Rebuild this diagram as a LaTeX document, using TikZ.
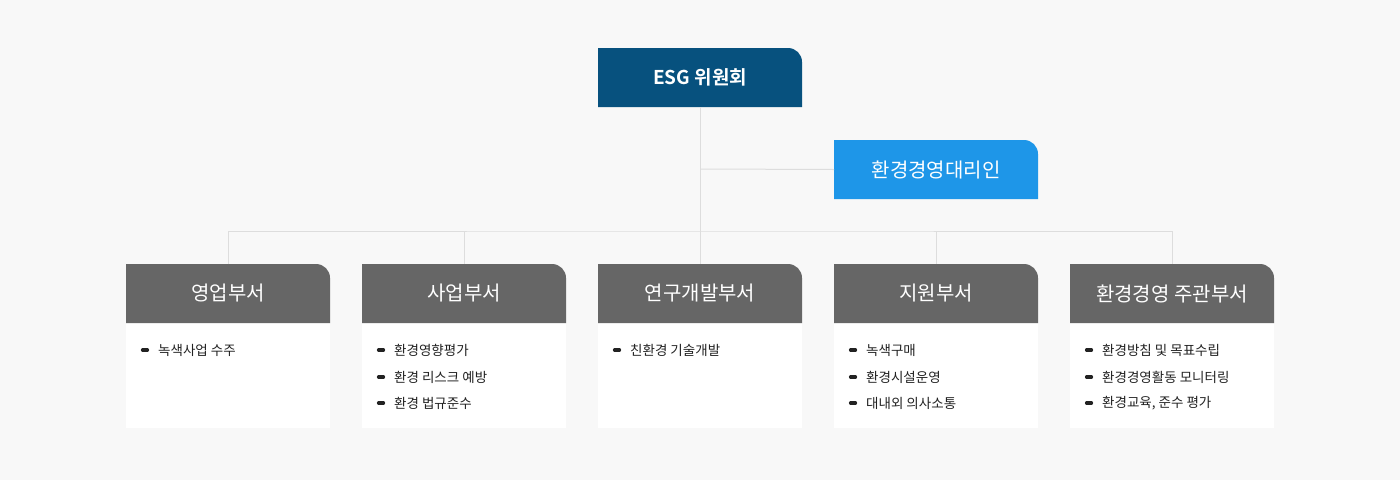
\documentclass[tikz,border=0pt]{standalone}
\usepackage{fontspec}
\setmainfont{Noto Sans CJK KR}
\newfontfamily\kbold{Noto Sans CJK KR Bold}
\definecolor{bg}{HTML}{F8F8F8}
\definecolor{navy}{HTML}{07517E}
\definecolor{sky}{HTML}{1E96E8}
\definecolor{hdr}{HTML}{666666}
\definecolor{ln}{HTML}{DDDDDD}
\definecolor{txt}{HTML}{222222}
\tikzset{
 boxtxt/.style={text=white,font=\fontsize{20}{24}\selectfont,inner sep=0pt},
 item/.style={anchor=west,text=txt,font=\fontsize{13.5}{16}\selectfont,inner sep=0pt},
 bul/.style={line width=3.2pt,line cap=round,txt},
 conn/.style={draw=ln,line width=1pt}
}
\newcommand{\tbox}[6]{% name, x1,y1,x2,y2,color
 \fill[#6] (#2,#5) -- (#2,#3) [rounded corners=14] -- (#4,#3) [sharp corners] -- (#4,#5) -- cycle;
 \coordinate (#1) at ({(#2+#4)/2},{(#3+#5)/2});
 \coordinate (#1-t) at ({(#2+#4)/2},#3);
 \coordinate (#1-b) at ({(#2+#4)/2},#5);
 \coordinate (#1-w) at (#2,{(#3+#5)/2});
}
\newcommand{\itm}[4]{% name,x,y,text
 \draw[bul] (#2-2.5,#3) -- (#2+2.5,#3);
 \node[item] (#1) at (#2+13,#3) {#4};
}
\begin{document}
\begin{tikzpicture}[x=1pt,y=-1pt]
\fill[bg] (0,0) rectangle (1400,480);
\useasboundingbox (0,0) rectangle (1400,480);
% lines first
\tbox{esg}{598}{48}{802}{107}{navy}
\tbox{rep}{834}{140}{1038}{199}{sky}
\coordinate (bus) at (700,231);
\coordinate (mid) at (700,169);
\foreach \n/\x in {d1/126,d2/362,d3/598,d4/834,d5/1070}{
 \fill[white] (\x,323) rectangle (\x+204,428);
 \tbox{\n}{\x}{264}{\x+204}{323}{hdr}
}
\draw[conn] (esg-b) -- (bus);
\draw[conn] (mid) -- (rep-w);
\draw[conn] (d1-t) |- (bus) -| (d5-t);
\foreach \n in {d2,d3,d4}{\draw[conn] (\n-t) -- (\n-t |- bus);}
\node[boxtxt,font=\kbold\fontsize{19}{24}\selectfont] (esgt) at (esg) {ESG 위원회};
\node[boxtxt] (rept) at (rep) {환경경영대리인};
\node[boxtxt] (d1t) at (d1) {영업부서};
\node[boxtxt] (d2t) at (d2) {사업부서};
\node[boxtxt] (d3t) at (d3) {연구개발부서};
\node[boxtxt] (d4t) at (d4) {지원부서};
\node[boxtxt] (d5t) at (d5) {환경경영 주관부서};
\itm{a1}{145}{350}{녹색사업 수주}
\itm{b1}{381}{350}{환경영향평가}
\itm{b2}{381}{377}{환경 리스크 예방}
\itm{b3}{381}{403}{환경 법규준수}
\itm{c1}{617}{350}{친환경 기술개발}
\itm{e1}{853}{350}{녹색구매}
\itm{e2}{853}{377}{환경시설운영}
\itm{e3}{853}{403}{대내외 의사소통}
\itm{f1}{1089}{350}{환경방침 및 목표수립}
\itm{f2}{1089}{377}{환경경영활동 모니터링}
\itm{f3}{1089}{403}{환경교육, 준수 평가}
\end{tikzpicture}
\end{document}
